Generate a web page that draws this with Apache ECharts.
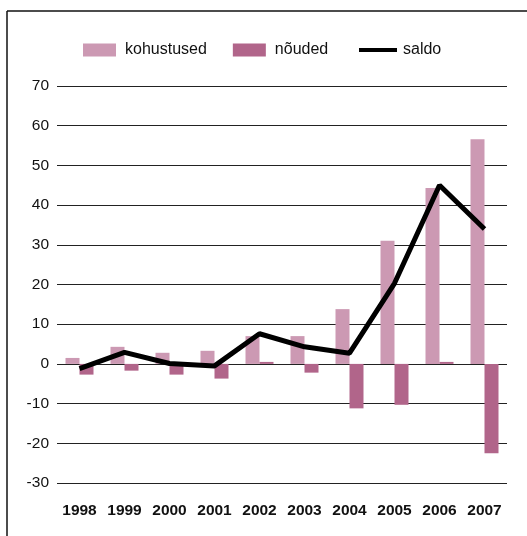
<!DOCTYPE html>
<html><head><meta charset="utf-8">
<script src="https://cdn.jsdelivr.net/npm/echarts@6/dist/echarts.min.js"></script>
<style>html,body{margin:0;padding:0;background:#fff}#c{width:527px;height:536px}</style>
</head><body><div id="c"></div>
<script>
var years = ['1998','1999','2000','2001','2002','2003','2004','2005','2006','2007'];
var kohustused = [1.5, 4.3, 2.8, 3.3, 7.0, 7.0, 13.8, 31.0, 44.3, 56.6];
var nouded = [-2.7, -1.7, -2.7, -3.7, 0.5, -2.2, -11.2, -10.3, 0.5, -22.5];
var saldo = [-1.2, 2.9, 0.1, -0.5, 7.6, 4.3, 2.7, 20.3, 45.0, 34.0];
var yMin = -30, yMax = 70, yStep = 10;

var chart = echarts.init(document.getElementById('c'), null, {renderer:'canvas'});
var font = '"Liberation Sans", Arial, Helvetica, sans-serif';
chart.setOption({
  animation:false,
  textStyle:{fontFamily:font},
  graphic:[
    {type:'line', shape:{x1:7,y1:11,x2:527,y2:11}, style:{stroke:'#111',lineWidth:1.5}},
    {type:'line', shape:{x1:7,y1:11,x2:7,y2:536}, style:{stroke:'#111',lineWidth:1.5}}
  ],
  legend:[
    {left:83, top:42, padding:0, itemWidth:33, itemHeight:13, itemGap:26, icon:'rect',
     data:['kohustused','nõuded'],
     textStyle:{fontSize:16, color:'#111', fontFamily:font, padding:[0,0,0,4]}},
    {left:359, top:42, padding:0, itemWidth:38, itemHeight:4, icon:'rect',
     data:['saldo'],
     textStyle:{fontSize:16, color:'#111', fontFamily:font, padding:[0,0,0,1]}}
  ],
  grid:{left:57, right:20, top:86, bottom:53},
  xAxis:{type:'category', data:years,
    axisLine:{show:false}, axisTick:{show:false},
    axisLabel:{interval:0, fontSize:15.5, fontWeight:'bold', color:'#111', margin:20, fontFamily:font}},
  yAxis:{type:'value', min:yMin, max:yMax, interval:yStep,
    axisLine:{show:false}, axisTick:{show:false},
    axisLabel:{fontSize:15.5, color:'#111', margin:8, fontFamily:font},
    splitLine:{lineStyle:{color:'#222', width:1.2}}},
  series:[
    {name:'kohustused', type:'bar', data:kohustused, barWidth:14, barGap:'0%',
     itemStyle:{color:'#cc99b3'}},
    {name:'nõuded', type:'bar', data:nouded, barWidth:14, barGap:'0%',
     itemStyle:{color:'#b1658a'}},
    {name:'saldo', type:'line', data:saldo, symbol:'none',
     lineStyle:{color:'#000', width:5}, itemStyle:{color:'#000'}, z:5}
  ]
});
</script></body></html>
